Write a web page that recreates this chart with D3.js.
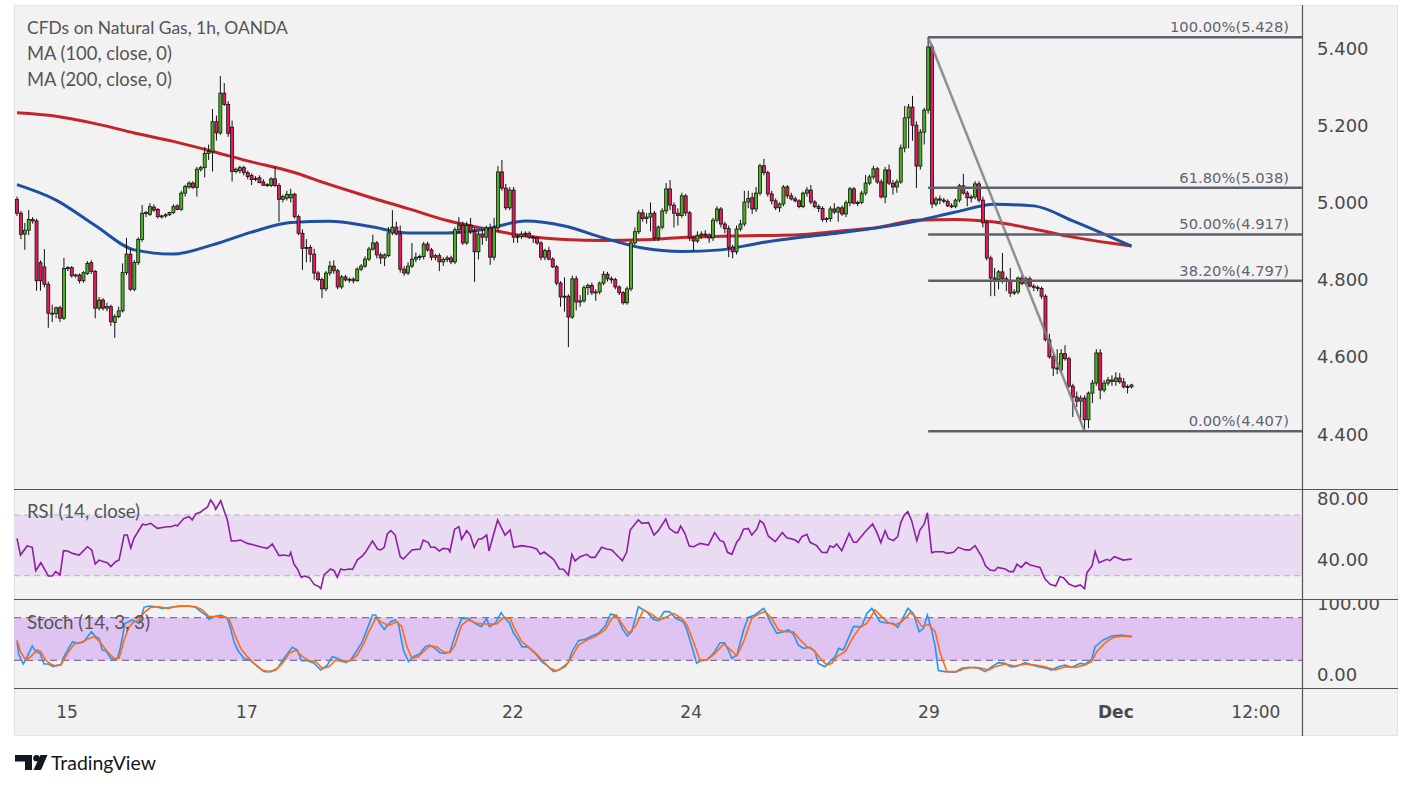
<!DOCTYPE html>
<html><head><meta charset="utf-8">
<script src="https://cdn.jsdelivr.net/npm/d3@7/dist/d3.min.js"></script>
<style>body{margin:0;background:#fff}svg{display:block}</style>
</head><body>
<script>
// ---------- DATA ----------
const titleText = "CFDs on Natural Gas, 1h, OANDA";
const legend = ["MA (100, close, 0)", "MA (200, close, 0)"];
const priceTicks = [5.4, 5.2, 5.0, 4.8, 4.6, 4.4];
const rsiTicks = [80, 40];
const stochTicks = [100, 0];
const timeLabels = ["15", "17", "22", "24", "29", "Dec", "12:00"];
const timeBars = [12.8, 58.8, 126.8, 172.4, 233.2, 281.0, 316.8];
const fibPct = ["100.00%", "61.80%", "50.00%", "38.20%", "0.00%"];
const fibVal = [5.428, 5.038, 4.917, 4.797, 4.407];
const fibStartBar = 233;
const trendFrom = [233, 5.428], trendTo = [273, 4.407];

// hourly candles [open, high, low, close]
const ohlc = [
[5.008,5.015,4.965,4.972],[4.972,4.978,4.905,4.917],[4.918,4.947,4.877,4.928],[4.928,4.980,4.915,4.956],[4.956,4.962,4.945,4.952],
[4.952,4.958,4.771,4.797],[4.844,4.850,4.771,4.797],[4.833,4.879,4.780,4.788],[4.788,4.795,4.675,4.713],[4.713,4.735,4.690,4.712],
[4.712,4.730,4.700,4.727],[4.727,4.732,4.690,4.700],[4.700,4.856,4.695,4.829],[4.829,4.835,4.822,4.831],[4.831,4.835,4.805,4.810],
[4.810,4.815,4.805,4.812],[4.812,4.816,4.790,4.797],[4.797,4.822,4.792,4.818],[4.816,4.848,4.812,4.842],[4.844,4.850,4.815,4.821],
[4.821,4.825,4.700,4.726],[4.726,4.755,4.720,4.747],[4.747,4.752,4.720,4.726],[4.726,4.740,4.718,4.730],[4.730,4.735,4.680,4.691],
[4.689,4.710,4.649,4.704],[4.704,4.730,4.700,4.719],[4.719,4.842,4.715,4.818],[4.818,4.908,4.812,4.866],[4.866,4.880,4.770,4.775],
[4.775,4.850,4.770,4.844],[4.844,4.910,4.838,4.904],[4.904,4.993,4.898,4.972],[4.972,4.978,4.962,4.974],[4.969,4.998,4.965,4.989],
[4.988,4.995,4.975,4.980],[4.982,4.985,4.958,4.963],[4.963,4.968,4.958,4.965],[4.965,4.972,4.960,4.968],[4.968,4.976,4.965,4.974],
[4.974,4.995,4.970,4.989],[4.991,4.995,4.980,4.982],[4.982,5.030,4.978,5.024],[5.024,5.046,5.015,5.041],[5.040,5.055,5.035,5.050],
[5.050,5.055,5.035,5.039],[5.039,5.092,5.015,5.086],[5.086,5.095,5.080,5.090],[5.090,5.144,5.065,5.127],[5.127,5.150,5.110,5.132],
[5.131,5.242,5.080,5.209],[5.209,5.225,5.160,5.180],[5.180,5.327,5.175,5.283],[5.283,5.309,5.250,5.254],[5.254,5.262,5.170,5.179],
[5.195,5.212,5.054,5.080],[5.080,5.090,5.075,5.086],[5.082,5.095,5.075,5.090],[5.090,5.095,5.070,5.077],[5.077,5.082,5.060,5.067],
[5.070,5.075,5.045,5.059],[5.060,5.068,5.055,5.062],[5.064,5.070,5.050,5.051],[5.053,5.060,5.045,5.044],[5.044,5.050,5.040,5.046],
[5.044,5.065,5.040,5.061],[5.061,5.093,5.040,5.044],[5.044,5.050,4.950,5.008],[5.008,5.020,5.000,5.015],[5.011,5.030,5.005,5.021],
[5.012,5.035,5.000,5.021],[5.021,5.025,4.958,4.963],[4.963,4.968,4.915,4.920],[4.920,4.930,4.825,4.881],[4.881,4.905,4.845,4.883],
[4.883,4.890,4.845,4.866],[4.866,4.880,4.800,4.817],[4.817,4.822,4.795,4.800],[4.800,4.805,4.752,4.776],[4.776,4.822,4.770,4.817],
[4.817,4.848,4.810,4.835],[4.835,4.850,4.815,4.823],[4.823,4.828,4.775,4.781],[4.781,4.812,4.776,4.807],[4.807,4.812,4.795,4.799],
[4.799,4.805,4.792,4.801],[4.801,4.806,4.790,4.797],[4.797,4.832,4.795,4.827],[4.827,4.840,4.822,4.835],[4.835,4.860,4.830,4.853],
[4.853,4.885,4.848,4.879],[4.879,4.916,4.875,4.895],[4.895,4.900,4.855,4.864],[4.864,4.870,4.840,4.856],[4.856,4.868,4.835,4.864],
[4.862,4.936,4.858,4.921],[4.921,4.980,4.915,4.936],[4.936,4.950,4.915,4.918],[4.918,4.940,4.818,4.827],[4.827,4.835,4.810,4.817],
[4.817,4.845,4.812,4.835],[4.835,4.895,4.830,4.853],[4.853,4.870,4.845,4.858],[4.858,4.865,4.850,4.860],[4.860,4.898,4.852,4.892],
[4.892,4.898,4.872,4.877],[4.877,4.882,4.850,4.858],[4.858,4.866,4.850,4.862],[4.862,4.868,4.822,4.846],[4.846,4.858,4.835,4.852],
[4.852,4.862,4.845,4.856],[4.856,4.862,4.840,4.846],[4.846,4.935,4.840,4.929],[4.929,4.962,4.920,4.941],[4.941,4.950,4.890,4.895],
[4.895,4.950,4.890,4.941],[4.941,4.960,4.918,4.925],[4.925,4.935,4.794,4.872],[4.872,4.925,4.852,4.918],[4.918,4.930,4.890,4.910],
[4.910,4.940,4.900,4.934],[4.934,4.945,4.838,4.858],[4.858,4.960,4.850,4.934],[4.934,5.094,4.925,5.079],[5.079,5.110,5.030,5.037],
[5.037,5.048,4.980,4.986],[4.986,5.040,4.980,5.032],[5.032,5.040,4.895,4.910],[4.910,4.918,4.895,4.912],[4.912,4.925,4.905,4.918],
[4.918,4.925,4.910,4.920],[4.920,4.925,4.905,4.910],[4.910,4.915,4.895,4.908],[4.908,4.912,4.890,4.895],[4.895,4.900,4.850,4.858],
[4.858,4.880,4.850,4.875],[4.875,4.885,4.850,4.853],[4.853,4.858,4.830,4.833],[4.833,4.838,4.785,4.791],[4.791,4.796,4.730,4.755],
[4.755,4.806,4.717,4.757],[4.757,4.762,4.625,4.703],[4.703,4.810,4.698,4.802],[4.802,4.810,4.720,4.742],[4.742,4.760,4.730,4.745],
[4.745,4.785,4.740,4.779],[4.779,4.790,4.760,4.785],[4.785,4.792,4.760,4.766],[4.766,4.775,4.745,4.768],[4.768,4.795,4.762,4.791],
[4.791,4.822,4.785,4.814],[4.814,4.820,4.795,4.802],[4.802,4.808,4.790,4.800],[4.800,4.805,4.775,4.781],[4.781,4.785,4.760,4.766],
[4.766,4.770,4.735,4.740],[4.740,4.782,4.735,4.776],[4.776,4.900,4.770,4.895],[4.895,4.935,4.890,4.924],[4.924,4.980,4.918,4.973],
[4.973,4.982,4.950,4.958],[4.958,4.972,4.945,4.962],[4.962,5.000,4.925,4.972],[4.972,4.978,4.900,4.908],[4.908,4.940,4.900,4.936],
[4.936,4.985,4.930,4.978],[4.978,5.050,4.970,5.035],[5.035,5.058,4.980,4.993],[4.993,5.000,4.935,4.972],[4.972,4.985,4.940,4.966],
[4.966,5.025,4.960,5.017],[5.017,5.022,4.965,4.973],[4.973,4.978,4.900,4.908],[4.908,4.912,4.875,4.900],[4.900,4.925,4.895,4.915],
[4.915,4.925,4.905,4.918],[4.918,4.928,4.910,4.916],[4.916,4.920,4.895,4.908],[4.908,4.960,4.900,4.954],[4.954,4.990,4.948,4.983],
[4.983,4.988,4.935,4.944],[4.944,4.950,4.920,4.932],[4.932,4.940,4.858,4.884],[4.884,4.890,4.855,4.872],[4.872,4.940,4.865,4.931],
[4.931,4.955,4.925,4.944],[4.944,5.030,4.938,5.001],[5.001,5.030,4.985,5.010],[5.012,5.025,4.970,4.983],[4.983,5.040,4.975,5.024],
[5.024,5.100,5.018,5.095],[5.095,5.113,5.070,5.077],[5.077,5.082,5.015,5.022],[5.022,5.030,4.995,5.004],[5.004,5.010,4.980,4.986],
[4.986,5.000,4.975,4.996],[4.996,5.045,4.990,5.040],[5.040,5.045,5.010,5.017],[5.017,5.025,5.005,5.009],[5.009,5.015,5.000,5.004],
[5.004,5.008,4.985,4.989],[4.989,5.028,4.985,5.024],[5.024,5.040,5.015,5.032],[5.032,5.045,4.995,5.001],[5.001,5.006,4.985,4.989],
[4.989,4.995,4.975,4.984],[4.984,4.990,4.950,4.956],[4.956,4.962,4.948,4.958],[4.958,4.990,4.950,4.983],[4.983,4.998,4.970,4.975],
[4.975,4.990,4.950,4.986],[4.986,4.992,4.965,4.970],[4.970,5.005,4.962,4.999],[4.999,5.040,4.990,5.035],[5.035,5.040,4.995,4.998],
[4.998,5.005,4.990,5.000],[5.000,5.030,4.995,5.024],[5.024,5.071,5.018,5.050],[5.050,5.072,5.045,5.066],[5.066,5.095,5.060,5.087],
[5.087,5.092,5.048,5.053],[5.053,5.060,5.010,5.014],[5.014,5.092,4.998,5.084],[5.084,5.098,5.045,5.050],[5.050,5.058,5.020,5.040],
[5.040,5.060,5.025,5.053],[5.053,5.150,5.048,5.141],[5.141,5.250,5.130,5.219],[5.219,5.255,5.140,5.247],[5.247,5.276,5.160,5.200],
[5.200,5.210,5.037,5.094],[5.094,5.190,5.085,5.182],[5.182,5.245,5.150,5.239],[5.239,5.428,5.230,5.403],[5.403,5.410,4.985,4.996],
[4.996,5.015,4.990,5.009],[5.009,5.018,4.995,5.006],[5.006,5.012,4.998,5.003],[5.003,5.008,4.988,4.991],[4.991,4.998,4.985,4.990],
[4.990,5.010,4.985,5.006],[5.006,5.048,5.000,5.043],[5.043,5.074,5.020,5.024],[5.024,5.030,4.990,5.012],[5.012,5.020,5.000,5.014],
[5.014,5.055,5.008,5.048],[5.048,5.055,5.000,5.006],[5.006,5.015,4.935,4.947],[4.947,4.952,4.850,4.856],[4.856,4.862,4.757,4.804],
[4.804,4.830,4.757,4.800],[4.800,4.825,4.775,4.820],[4.820,4.869,4.790,4.802],[4.802,4.808,4.770,4.798],[4.798,4.830,4.755,4.765],
[4.765,4.775,4.760,4.768],[4.768,4.808,4.762,4.804],[4.804,4.812,4.785,4.790],[4.790,4.808,4.785,4.802],[4.802,4.808,4.780,4.783],
[4.783,4.788,4.770,4.780],[4.780,4.785,4.770,4.777],[4.777,4.782,4.750,4.757],[4.757,4.762,4.640,4.644],[4.644,4.660,4.595,4.600],
[4.600,4.608,4.550,4.571],[4.571,4.620,4.555,4.570],[4.566,4.620,4.560,4.608],[4.608,4.630,4.590,4.595],[4.595,4.600,4.520,4.524],
[4.524,4.530,4.444,4.496],[4.496,4.510,4.470,4.485],[4.485,4.500,4.430,4.493],[4.493,4.500,4.407,4.437],[4.437,4.510,4.415,4.506],
[4.506,4.540,4.480,4.532],[4.532,4.620,4.525,4.610],[4.610,4.620,4.490,4.514],[4.514,4.540,4.508,4.532],[4.532,4.548,4.525,4.540],
[4.540,4.552,4.525,4.536],[4.536,4.560,4.525,4.545],[4.545,4.558,4.530,4.535],[4.535,4.545,4.518,4.522],[4.522,4.528,4.505,4.523],
[4.522,4.530,4.518,4.527]
];

// moving averages read at bar positions
const maBars = [0,10,20,30,40,50,60,70,80,90,100,110,120,130,140,150,160,170,180,190,200,210,220,230,240,250,260,270,280,285];
const ma100 = [5.046,5.006,4.940,4.877,4.866,4.890,4.923,4.948,4.951,4.938,4.921,4.921,4.931,4.952,4.939,4.908,4.882,4.873,4.877,4.895,4.909,4.921,4.934,4.952,4.975,4.995,4.991,4.952,4.909,4.887];
const ma200 = [5.232,5.223,5.204,5.180,5.158,5.132,5.105,5.080,5.046,5.014,4.984,4.953,4.931,4.913,4.904,4.901,4.903,4.909,4.912,4.914,4.916,4.925,4.935,4.954,4.956,4.949,4.931,4.910,4.894,4.887];

// RSI (14) [bar, value]
const rsi = [[0,54.6],[0.9,43.6],[2.6,49.6],[3.9,48.7],[4.8,33.3],[6.1,38.6],[8,29.8],[9,29.8],[9.9,32.7],[11,30.5],[11.9,46.5],[12.9,46.3],[14.2,44.7],[15.9,43.6],[18,49.1],[19.1,47],[20,37.7],[21,40.3],[22.2,39.2],[23.1,38.6],[24,36],[25.2,39.2],[26.1,40.3],[27.4,56.8],[28.2,56.8],[29.1,48.1],[29.9,54.6],[32.1,63.9],[32.9,63.4],[34.2,64.5],[35.9,61.2],[38.4,62.3],[39.3,62.3],[40.6,63.4],[41,62.8],[41.9,65.6],[42.7,67.8],[44,68.9],[44.8,66.7],[45.7,70.7],[47,72],[47.8,73.7],[48.7,75.1],[49.5,79.9],[50.4,76.6],[50.8,73.7],[52.1,79.4],[52.9,73.3],[53.8,66.7],[54.8,52.9],[56.4,53.1],[57.2,53.5],[58.9,51.3],[60.6,50.2],[62.7,48.7],[64,48],[65.3,50.9],[66.2,46.9],[67,43.2],[68.3,43.6],[69.6,43],[70,45.4],[70.8,37.7],[71.7,34.4],[72.7,28.9],[73.4,29.8],[74.7,28.9],[75.5,26.1],[76,24.3],[77.2,22.8],[77.7,21.5],[78.5,30.5],[80.2,34.4],[81.1,33.3],[81.9,28.9],[82.8,34.4],[83.6,33.8],[84.9,34.4],[85.8,34.2],[87,40.3],[88.3,43],[89.2,45.8],[90.9,52.9],[92.2,47.6],[93,47],[93.9,48.7],[94.7,57.5],[95.6,59.7],
[96.7,56.8],[98,42.5],[98.8,41],[101,46.9],[103.1,47.6],[103.9,53.5],[105.2,51.8],[105.8,48.7],[106.9,48.7],[108,46.3],[109,48],[110.3,47.6],[110.7,45.8],[111.9,60.6],[113,62.3],[113.7,54],[115,59.7],[115.9,56.8],[116.9,48.7],[118,54.2],[118.8,54.2],[120.1,56.8],[120.7,46.3],[122.9,66.7],[124.8,56.8],[126.1,60.1],[127,48.7],[129.1,49.8],[131.6,48.7],[132.9,47.6],[133.8,44.1],[134.8,45.6],[137.2,40.8],[138.7,34.4],[139.7,34.2],[141,30.5],[141.9,44.1],[142.7,39.7],[144,42.5],[145.7,44.1],[146.7,42.1],[147.8,42.1],[149.5,48.7],[150.8,47.6],[152.1,47],[153.8,42.5],[154.8,39.9],[155.9,45.4],[156.8,60.1],[158.9,66.7],[159.8,64.5],[161.5,65],[162.9,56.8],[164,59.7],[165.9,67.4],[166.8,61.2],[168.3,58.4],[169,58.4],[169.7,62.7],[170.8,57.9],[171.9,49.6],[173,49.1],[174.7,51.3],[176.8,50.2],[178.4,58.4],[179.8,53.1],[180.7,52.4],[181.7,45.4],[182.8,44.1],[184.1,52.4],[184.7,54],[185.8,60.6],[187,61.2],[187.9,56.8],[189.2,60.8],[190,66.3],[190.9,64.5],
[191.3,61.9],[192.1,56.2],[193.9,52.4],[195.7,58.4],[196.8,55.1],[199,53.5],[199.8,51.8],[200.7,55.7],[202,57.3],[202.8,52],[204.5,49.8],[205.8,45.4],[207.1,45.2],[207.9,49.6],[208.8,48.7],[209.6,50.9],[210.9,46.5],[212.8,57.9],[213.9,52],[214.7,52],[216.9,59],[218.8,64.1],[219.9,58.4],[220.9,51.8],[222,59.7],[222.8,54.6],[224.1,53.1],[225.2,55.7],[226,65],[226.9,70],[227.8,72.2],[228.8,66.1],[230.1,53.1],[230.9,60.1],[232,64.1],[232.8,71.5],[233.9,45.2],[234.8,45.8],[236.9,45.8],[237.8,44.7],[239.5,45.4],[240.7,48.7],[242.5,47],[243.7,47],[245,49.8],[246.7,42.5],[247.7,36.4],[248.8,33.8],[250,33.3],[250.8,35.5],[252.7,34.4],[253.8,32.7],[254.8,32.7],[255.7,37.5],[256.8,35.5],[258,38.8],[259.1,37.1],[261.6,35.5],[262.9,27.8],[264.2,24.3],[265.6,23.2],[266.7,29.4],[267.6,28.7],[269,24.5],[270.6,22.8],[271.9,23.9],[273,21.5],[273.6,32],[274.9,36.4],[275.7,45.8],[276.7,38.6],[278.7,40.8],[279.5,39.9],[280.6,42.5],[282.9,40.3],[285.1,41]];

// Stochastic %K [bar, value]
const stochK = [[0,46.2],[0.5,27.5],[1.6,14.8],[2.6,25.1],[3.9,40.1],[4.8,32.1],[5.9,29.8],[6.9,14.8],[8,14.8],[9.3,11],[10.3,13.4],[11.2,13.4],[12,25.1],[14.2,46.2],[15.4,43.9],[17.1,46.2],[19,60.3],[20.1,53.3],[21,50.9],[21.8,34.5],[22.7,33.6],[24,22.8],[24.8,20.4],[25.7,22.8],[26.5,39.2],[27.6,72.1],[28.6,74.4],[29.5,76.8],[30.3,74.4],[31.2,72.1],[32.5,94.6],[33.8,96.5],[35.5,95.5],[37.2,93.2],[39.3,94.6],[41.4,96.5],[44,96.5],[45.7,94.6],[47,88.5],[48.3,83.8],[49.1,77.7],[50.4,81.5],[52.1,83.8],[53.8,79.1],[54.6,65],[55.5,46.2],[56.4,34.5],[58,22.8],[59.8,19.5],[61.5,11],[63.2,4],[64.9,4],[66.6,8.7],[68.3,22.8],[70.4,38.3],[71.7,34.5],[72.7,19.5],[74.3,19.5],[76,15.7],[77.7,6.3],[79.4,13.4],[80.6,25.1],[81.9,22.8],[84.1,16.7],[85.3,20.4],[87,34.5],[88.3,46.2],[89.6,65],[90.9,83.8],[91.7,83.8],[92.8,72.1],[93.9,63.6],[95.6,74.4],
[96.7,76.8],[97.5,72.1],[98.8,34.5],[100.1,18.1],[101.4,25.1],[103.1,29.8],[104.4,39.2],[105.6,41.5],[106.9,36.8],[108.2,30.7],[109.5,29.8],[110.7,32.1],[112.5,62.7],[113.7,79.1],[115.4,79.1],[117.1,72.1],[118.8,67.4],[120.1,79.1],[120.8,67.4],[122.3,72.1],[123.8,87.1],[124.8,79.1],[125.9,73],[127,58],[128.2,48.6],[129.1,39.2],[130.8,38.3],[132.5,29.8],[134.2,18.1],[135.9,11],[137.2,4],[138.5,6.3],[139.7,11],[141,16.7],[141.9,32.1],[143.6,47.6],[145.3,49.5],[147,54.2],[148.7,58],[150.4,68.3],[151.8,85.2],[153.4,82.4],[154.9,63.6],[156.1,54.2],[157.2,60.3],[158.9,95.5],[159.8,92.2],[161,88.5],[162.7,77.7],[164,75.8],[165.5,88.5],[166.8,88.5],[168.5,79.1],[170.4,74.4],[171.3,62.7],[172.6,39.2],[173.8,15.7],[175.1,20.4],[176.4,20.4],[178.1,29.8],[179.8,44.8],[180.9,44.8],[181.9,34.5],[182.8,22.8],[184.1,27.5],[185.8,62.7],[187,80.5],[188.7,83.8],[190.9,93.2],
[191.3,89.9],[192.6,74.4],[194.3,58],[196,60.3],[197.3,62.7],[198.5,57],[199.8,41.5],[201.1,36.8],[202.8,38.3],[204.1,32.1],[204.9,15.7],[206.6,11],[207.9,18.1],[209.2,25.1],[210.1,36.8],[211.3,34.5],[212.6,50.9],[213.9,67.4],[216,67.4],[217.3,86.1],[218.6,93.2],[220.7,74.4],[222.8,72.1],[224.1,72.1],[225.2,66.4],[226.3,76.8],[227.8,93.2],[229.2,86.1],[230.7,60.3],[231.8,65],[232.8,83.8],[233.9,62.7],[234.8,39.2],[235.6,5.4],[237.3,4],[239.9,3.1],[241.6,8.7],[243.7,10.1],[245.9,8.7],[247.6,4],[249.3,11],[251,16.7],[252.7,15.7],[254,11],[255.2,11],[256.5,13.4],[257.8,16.7],[259.5,13.4],[261.2,11],[263.3,8.7],[264.6,6.3],[266.3,11],[268,13.4],[269.7,10.1],[271.9,15.7],[273.1,14.3],[274.8,21.4],[275.7,39.2],[277.8,48.6],[280,54.2],[282.5,55.6],[285.1,53.3]];

// Stochastic %D [bar, value]
const stochD = [[0,48.6],[0.9,32.1],[2.2,20.4],[3.5,25.1],[5.2,34.5],[6.05,32.1],[7.3,20.4],[8.6,14.8],[9.9,12],[11.2,13.4],[12.9,29.8],[14.6,43],[16.3,44.8],[18,49.5],[19.7,53.3],[21.4,44.8],[23.1,32.1],[24.8,22.8],[26.1,22.8],[27.4,48.6],[28.6,66.4],[29.9,74.4],[31.2,76.8],[32.5,87.1],[34.2,94.6],[36.3,95.5],[38.4,93.2],[40.6,95.5],[43.1,96.5],[45.7,95.5],[47.4,90.8],[49.1,81.5],[50.8,81.5],[52.5,82.4],[54.2,79.1],[55.9,53.3],[57.2,36.8],[58.9,25.1],[60.6,15.7],[62.7,6.3],[64.4,4],[66.2,6.3],[67.9,15.7],[69.6,29.8],[71.3,34.5],[73,25.1],[74.7,19.5],[76.4,18.1],[78.1,8.7],[79.8,11],[81.5,20.4],[83.2,18.1],[85.3,19.5],[87,27.5],[88.7,43.9],[90,60.3],[91.7,79.1],[93,74.4],[94.7,69.7],
[95.4,69.7],[97.1,74.4],[98.4,67.4],[99.7,39.2],[101,22.8],[102.6,25.1],[104.4,34.5],[105.6,40.1],[107.3,39.2],[109,32.1],[110.7,30.7],[112,41.5],[113.7,69.7],[115.4,76.8],[117.6,72.1],[119.3,71.1],[121,71.1],[122.7,71.1],[124.4,80.5],[126.1,79.1],[127.4,62.7],[129.1,46.2],[131.2,36.8],[132.9,28.9],[134.6,18.1],[136.3,8.7],[138,5.4],[140.2,11],[141.9,25.1],[143.6,41.5],[145.7,48.6],[147.8,53.3],[150.4,62.7],[152.1,79.1],[153.2,83.8],[154.6,72.1],[156.4,58],[158.1,67.4],[160.2,90.8],[161.9,86.1],[164.4,76.8],[166.2,81.5],[167.9,86.1],[170,79.1],[171.3,69.7],[173,46.2],[174.7,19.5],[176.4,20.4],[178.5,29.8],[180.7,42.9],[182.4,35.4],[184.1,26.1],[185.8,46.2],[187.9,79.1],[190,86.1],
[191.3,88.5],[193,79.1],[194.7,62.7],[196.4,60.3],[198.5,60.3],[200.3,48.6],[202,39.2],[203.7,34.5],[205.4,22.8],[207.1,13.4],[208.4,15.7],[209.6,25.1],[211.8,32.1],[213.9,53.3],[215.6,66.4],[217.3,72.1],[219.4,90.8],[221.1,81.5],[222.8,73],[224.5,69.7],[226.3,74.4],[228.4,87.1],[229.7,81.5],[231.4,67.4],[233.1,70.6],[234.8,60.3],[236.1,29.8],[237.8,4],[240.3,4],[242.5,8.7],[245,10.1],[246.7,8.7],[248.4,6.3],[250.1,11],[252.7,14.8],[255.2,12],[257.8,14.8],[260.4,13.4],[262.9,11],[265.5,6.3],[268,11],[270.6,10.1],[273.1,13.4],[274.8,18.1],[276.1,32.1],[278.3,44.8],[280.4,52.3],[282.5,54.2],[285.1,53.3]];

// ---------- LAYOUT ----------
const W = 1413, H = 789;
const L = 14, R = 1398, AX = 1302, TOP = 5, BOT = 736;
const P1 = 489, P2 = 599, P3 = 688;
const NUMF = "'DejaVu Sans', sans-serif";
const TXTF = "Lato, 'Noto Sans', sans-serif";
const GRAY = "#4a4a4a";

const svg = d3.select("body").append("svg").attr("width", W).attr("height", H);
const defs = svg.append("defs");
function clip(id, x, y, w, h) { defs.append("clipPath").attr("id", id).append("rect").attr("x", x).attr("y", y).attr("width", w).attr("height", h); }
clip("cPrice", L, TOP, AX - L, P1 - TOP);
clip("cRsi", L, P1, AX - L, P2 - P1);
clip("cSto", L, P2, AX - L, P3 - P2);
clip("cAxSto", AX, P2 + 1, R - AX, P3 - P2 - 1);

svg.append("rect").attr("x", L + 0.5).attr("y", TOP + 0.5).attr("width", R - L - 1).attr("height", BOT - TOP - 1)
  .attr("fill", "#f2f2f2").attr("stroke", "#e3e3e3");

const x = d3.scaleLinear().domain([0, 285]).range([17, 1131.5]);
const yP = d3.scaleLinear().domain([4.4, 5.4]).range([434, 48]);
const yR = d3.scaleLinear().domain([30, 70]).range([575.7, 515]);
const yS = d3.scaleLinear().domain([20, 80]).range([660.3, 617.7]);

function fit(sel, target) {
  sel.style("font-size", "100px");
  const w = sel.node().getComputedTextLength();
  sel.style("font-size", (100 * target / w).toFixed(2) + "px");
  return sel;
}

// ---------- PRICE PANE ----------
const gP = svg.append("g").attr("clip-path", "url(#cPrice)");

// moving averages
const maLine = d3.line().x((d, i) => x(maBars[i])).y(d => yP(d)).curve(d3.curveMonotoneX);
gP.append("path").attr("d", maLine(ma200)).attr("fill", "none").attr("stroke", "#c3242b").attr("stroke-width", 3);
gP.append("path").attr("d", maLine(ma100)).attr("fill", "none").attr("stroke", "#1f4fa0").attr("stroke-width", 3);

// candles
const cg = gP.append("g");
ohlc.forEach((d, i) => {
  const [o, h, l, c] = d;
  const cx = x(i);
  cg.append("line").attr("x1", cx).attr("x2", cx).attr("y1", yP(h)).attr("y2", yP(l))
    .attr("stroke", "#111").attr("stroke-width", 1);
  const top = yP(Math.max(o, c)), bot = yP(Math.min(o, c));
  cg.append("rect").attr("x", cx - 1.5).attr("y", top).attr("width", 3).attr("height", Math.max(1, bot - top))
    .attr("fill", c >= o ? "#4cb21c" : "#e8195c").attr("stroke", "#111").attr("stroke-width", 0.8);
});

// fibonacci retracement
const fg = svg.append("g");
fibVal.forEach((v, i) => {
  fg.append("line").attr("x1", x(fibStartBar)).attr("x2", AX).attr("y1", yP(v)).attr("y2", yP(v))
    .attr("stroke", "#5d606b").attr("stroke-width", 2.5);
});
let fibSize = null;
fibVal.forEach((v, i) => {
  const t = fg.append("text").attr("x", 1289).attr("y", yP(v) - 5).attr("text-anchor", "end")
    .attr("font-family", NUMF).attr("fill", "#62656f").text(fibPct[i] + "(" + v.toFixed(3) + ")");
  if (i === 0) { fit(t, 119); fibSize = t.style("font-size"); } else t.style("font-size", fibSize);
});
// trend line
gP.append("line").attr("x1", x(trendFrom[0])).attr("y1", yP(trendFrom[1])).attr("x2", x(trendTo[0])).attr("y2", yP(trendTo[1]))
  .attr("stroke", "#7d7f86").attr("stroke-opacity", 0.85).attr("stroke-width", 2.5);

// legend
fit(svg.append("text").attr("x", 27).attr("y", 34).attr("font-family", TXTF).attr("fill", "#555").text(titleText), 261);
legend.forEach((s, i) => {
  fit(svg.append("text").attr("x", 27).attr("y", 60 + i * 26).attr("font-family", TXTF).attr("fill", "#555").text(s), 145);
});

// price axis
priceTicks.forEach(v => {
  svg.append("text").attr("x", 1317).attr("y", yP(v) + 6.5).attr("font-family", NUMF).attr("font-size", "18px")
    .attr("fill", GRAY).text(v.toFixed(3));
});

// ---------- RSI PANE ----------
const gR = svg.append("g").attr("clip-path", "url(#cRsi)");
gR.append("rect").attr("x", L).attr("y", yR(70)).attr("width", AX - L).attr("height", yR(30) - yR(70)).attr("fill", "#e9dcf2");
[70, 30].forEach(v => gR.append("line").attr("x1", L).attr("x2", AX).attr("y1", yR(v)).attr("y2", yR(v))
  .attr("stroke", "#b9aec2").attr("stroke-dasharray", "6,4"));
const rsiLine = d3.line().x(d => x(d[0])).y(d => yR(d[1]));
gR.append("path").attr("d", rsiLine(rsi)).attr("fill", "none").attr("stroke", "#8e1ea4").attr("stroke-width", 1.6);
fit(svg.append("text").attr("x", 27).attr("y", 518).attr("font-family", TXTF).attr("fill", "#555").text("RSI (14, close)"), 113);
rsiTicks.forEach(v => svg.append("text").attr("x", 1317).attr("y", yR(v) + 5).attr("font-family", NUMF).attr("font-size", "18px")
  .attr("fill", GRAY).text(v.toFixed(2)));

// ---------- STOCH PANE ----------
const gS = svg.append("g").attr("clip-path", "url(#cSto)");
gS.append("rect").attr("x", L).attr("y", yS(80)).attr("width", AX - L).attr("height", yS(20) - yS(80)).attr("fill", "#dfc4f2");
[80, 20].forEach(v => gS.append("line").attr("x1", L).attr("x2", AX).attr("y1", yS(v)).attr("y2", yS(v))
  .attr("stroke", "#6e5680").attr("stroke-dasharray", "7,5"));
const stoLine = d3.line().x(d => x(d[0])).y(d => yS(d[1]));
gS.append("path").attr("d", stoLine(stochK)).attr("fill", "none").attr("stroke", "#2196f3").attr("stroke-width", 1.6);
gS.append("path").attr("d", stoLine(stochD)).attr("fill", "none").attr("stroke", "#ff6a13").attr("stroke-width", 1.6);
fit(svg.append("text").attr("x", 27).attr("y", 629).attr("font-family", TXTF).attr("fill", "#555").text("Stoch (14, 3, 3)"), 123);
const gAS = svg.append("g").attr("clip-path", "url(#cAxSto)");
stochTicks.forEach(v => gAS.append("text").attr("x", 1317).attr("y", yS(v) + 6.5).attr("font-family", NUMF).attr("font-size", "18px")
  .attr("fill", GRAY).text(v.toFixed(2)));

// ---------- SEPARATORS ----------
[P1, P2, P3].forEach(yy => svg.append("line").attr("x1", L).attr("x2", R).attr("y1", yy + 0.5).attr("y2", yy + 0.5)
  .attr("stroke", "#555").attr("stroke-width", 1.2));
svg.append("line").attr("x1", AX + 0.5).attr("x2", AX + 0.5).attr("y1", TOP).attr("y2", BOT).attr("stroke", "#555").attr("stroke-width", 1.2);

// ---------- TIME AXIS ----------
timeLabels.forEach((s, i) => {
  svg.append("text").attr("x", x(timeBars[i])).attr("y", 718).attr("text-anchor", "middle")
    .attr("font-family", NUMF).attr("font-size", "17px").attr("font-weight", s === "Dec" ? "bold" : "normal")
    .attr("fill", GRAY).text(s);
});

// ---------- BRANDING ----------
const lg = svg.append("g").attr("fill", "#131722");
lg.append("path").attr("d", "M15,755 H32 V770 H25 V761.5 H15 Z");
lg.append("circle").attr("cx", 36.5).attr("cy", 758.3).attr("r", 3.3);
lg.append("path").attr("d", "M40.5,755 H47.5 L41,770 H33.5 Z");
fit(svg.append("text").attr("x", 51).attr("y", 770).attr("font-family", TXTF).attr("fill", "#131722").text("TradingView"), 105);
</script>
</body></html>
